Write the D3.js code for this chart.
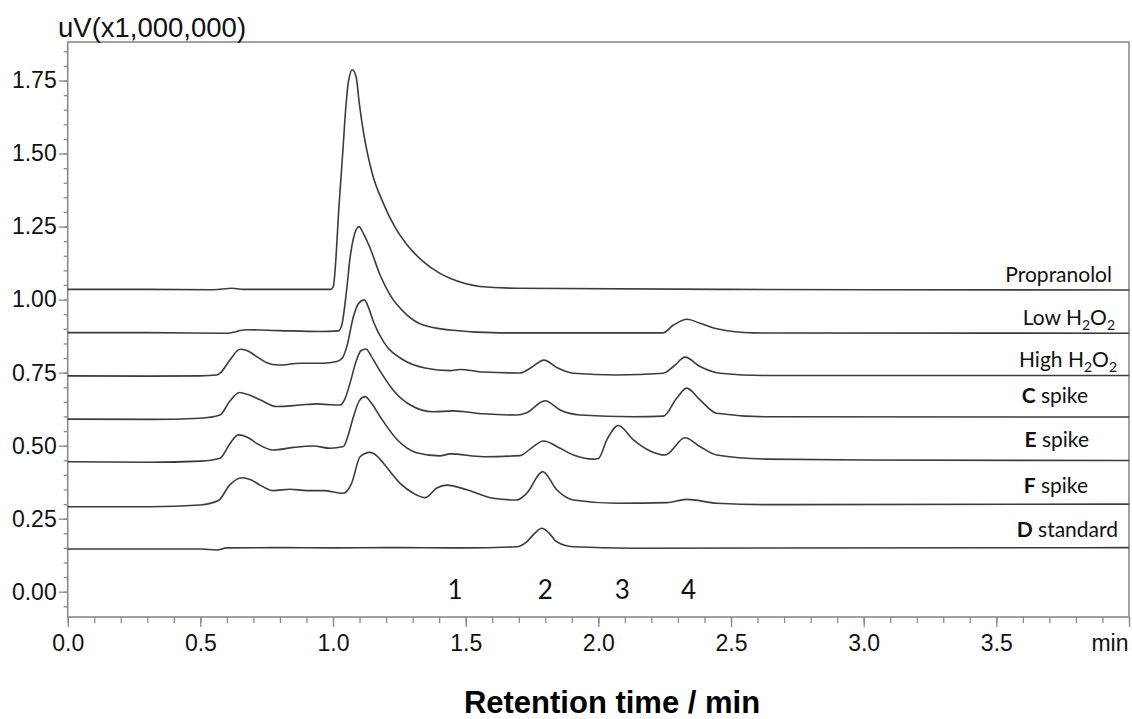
<!DOCTYPE html>
<html>
<head>
<meta charset="utf-8">
<script src="https://cdn.jsdelivr.net/npm/d3@7"></script>
<style>
  body { margin: 0; background: #fff; }
  svg { display: block; }
  .tick text { font-family: "Liberation Sans", Arial, sans-serif; font-size: 23px; fill: #111; }
  .tick line { stroke: #8a8a8a; stroke-width: 1.3; }
  .lbl { font-family: Lato, "Open Sans", sans-serif; font-size: 21px; fill: #111; }
</style>
</head>
<body>
<div id="chart"></div>
<script>
// traces: [time (min), signal (uV x1e6)] incl. stacking offset
var propranolol = [[0,1.035],[0.30,1.035],[0.55,1.034],[0.62,1.039],[0.66,1.035],[0.9925,1.035],[1.001,1.045],[1.024,1.341],[1.036,1.495],[1.049,1.667],[1.058,1.746],[1.073,1.787],[1.087,1.763],[1.099,1.672],[1.115,1.572],[1.130,1.500],[1.150,1.425],[1.188,1.333],[1.234,1.247],[1.278,1.189],[1.339,1.131],[1.403,1.090],[1.441,1.073],[1.498,1.055],[1.554,1.045],[1.690,1.039],[2.5,1.035],[4.0,1.033]];
var lowH2O2 = [[0,0.887],[0.30,0.887],[0.60,0.885],[0.625,0.888],[0.650,0.894],[0.675,0.897],[0.80,0.894],[0.95,0.891],[1.020,0.893],[1.033,0.913],[1.052,1.039],[1.064,1.142],[1.077,1.210],[1.098,1.250],[1.115,1.225],[1.140,1.176],[1.177,1.085],[1.215,1.016],[1.278,0.948],[1.340,0.913],[1.441,0.896],[1.63,0.886],[2.0,0.886],[2.243,0.886],[2.283,0.913],[2.335,0.933],[2.383,0.919],[2.446,0.900],[2.583,0.886],[4.0,0.885]];
var highH2O2 = [[0,0.739],[0.31,0.738],[0.50,0.739],[0.562,0.742],[0.574,0.748],[0.612,0.794],[0.649,0.830],[0.675,0.826],[0.712,0.805],[0.750,0.784],[0.794,0.776],[0.876,0.782],[0.963,0.782],[1.014,0.788],[1.035,0.800],[1.052,0.839],[1.077,0.942],[1.097,0.988],[1.118,0.999],[1.135,0.970],[1.152,0.925],[1.190,0.856],[1.264,0.794],[1.347,0.766],[1.441,0.757],[1.479,0.761],[1.567,0.752],[1.705,0.749],[1.743,0.765],[1.795,0.793],[1.843,0.768],[1.906,0.748],[2.069,0.742],[2.245,0.748],[2.283,0.771],[2.327,0.803],[2.383,0.771],[2.459,0.748],[2.635,0.740],[4.0,0.740]];
var cSpike = [[0,0.591],[0.31,0.590],[0.50,0.594],[0.574,0.605],[0.61,0.651],[0.647,0.682],[0.68,0.675],[0.725,0.657],[0.788,0.634],[0.876,0.639],[0.939,0.643],[0.990,0.640],[1.026,0.639],[1.045,0.660],[1.064,0.714],[1.089,0.794],[1.105,0.825],[1.124,0.831],[1.145,0.805],[1.177,0.756],[1.227,0.690],[1.290,0.640],[1.378,0.616],[1.453,0.619],[1.567,0.609],[1.692,0.605],[1.730,0.613],[1.799,0.654],[1.856,0.622],[1.931,0.605],[2.132,0.599],[2.245,0.601],[2.295,0.662],[2.333,0.697],[2.383,0.657],[2.446,0.611],[2.635,0.599],[4.0,0.598]];
var eSpike = [[0,0.445],[0.31,0.443],[0.50,0.447],[0.574,0.457],[0.61,0.505],[0.643,0.537],[0.675,0.530],[0.712,0.508],[0.775,0.485],[0.850,0.494],[0.926,0.499],[0.989,0.491],[1.039,0.497],[1.055,0.530],[1.077,0.599],[1.100,0.655],[1.121,0.668],[1.145,0.645],[1.177,0.600],[1.240,0.522],[1.315,0.476],[1.403,0.465],[1.441,0.472],[1.567,0.462],[1.705,0.466],[1.745,0.490],[1.793,0.516],[1.856,0.491],[1.906,0.468],[1.981,0.454],[2.000,0.456],[2.032,0.520],[2.075,0.569],[2.132,0.520],[2.195,0.482],[2.251,0.468],[2.327,0.527],[2.383,0.497],[2.446,0.468],[2.635,0.454],[3.0,0.451],[4.0,0.449]];
var fSpike = [[0,0.291],[0.31,0.291],[0.50,0.297],[0.568,0.312],[0.61,0.365],[0.656,0.390],[0.690,0.383],[0.725,0.365],[0.775,0.346],[0.838,0.351],[0.901,0.346],[0.963,0.346],[1.039,0.337],[1.070,0.371],[1.102,0.462],[1.139,0.477],[1.165,0.465],[1.190,0.440],[1.253,0.371],[1.303,0.337],[1.348,0.322],[1.391,0.355],[1.429,0.365],[1.504,0.349],[1.604,0.320],[1.692,0.314],[1.730,0.337],[1.790,0.411],[1.843,0.349],[1.906,0.314],[2.069,0.303],[2.258,0.305],[2.333,0.316],[2.446,0.303],[2.635,0.298],[4.0,0.300]];
var dStandard = [[0,0.146],[0.50,0.146],[0.562,0.143],[0.60,0.150],[0.80,0.151],[1.0,0.150],[1.20,0.151],[1.50,0.150],[1.692,0.154],[1.730,0.171],[1.760,0.200],[1.787,0.217],[1.815,0.200],[1.843,0.171],[1.906,0.154],[2.132,0.149],[4.0,0.151]];

var traces = [propranolol, lowH2O2, highH2O2, cSpike, eSpike, fSpike, dStandard];
var yMajor = [0, 0.25, 0.5, 0.75, 1.0, 1.25, 1.5, 1.75];
var xMajor = [0, 0.5, 1.0, 1.5, 2.0, 2.5, 3.0, 3.5, 4.0];
var peakNames = ["1", "2", "3", "4"];
var peakTimes = [1.46, 1.80, 2.09, 2.34];

var width = 1132, height = 719;
var plotL = 67.7, plotR = 1129, plotT = 42, plotB = 617;

var x = d3.scaleLinear().domain([0, 4]).range([plotL, plotR]);
var y = d3.scaleLinear().domain([-0.0866, 1.882]).range([plotB, plotT]);

var svg = d3.select("#chart").append("svg")
    .attr("width", width)
    .attr("height", height);

// minor ticks
svg.append("g")
    .attr("transform", "translate(" + plotL + ",0)")
    .call(d3.axisLeft(y).tickValues(d3.range(-0.05, 1.86, 0.05)).tickSize(4).tickFormat(""))
    .call(function(g) { g.select(".domain").remove(); });
svg.append("g")
    .attr("transform", "translate(0," + plotB + ")")
    .call(d3.axisBottom(x).tickValues(d3.range(0, 4.01, 0.1)).tickSize(6).tickFormat(""))
    .call(function(g) { g.select(".domain").remove(); });

// major ticks
svg.append("g")
    .attr("transform", "translate(" + plotL + ",0)")
    .call(d3.axisLeft(y).tickValues(yMajor).tickSize(9).tickPadding(2).tickFormat(d3.format(".2f")))
    .call(function(g) { g.select(".domain").remove(); });
svg.append("g")
    .attr("transform", "translate(0," + plotB + ")")
    .call(d3.axisBottom(x).tickValues(xMajor).tickSize(10).tickPadding(8)
        .tickFormat(function(d) { return d === 4 ? "min" : d3.format(".1f")(d); }))
    .call(function(g) {
        g.select(".domain").remove();
        g.selectAll(".tick text").filter(function(d) { return d === 4; })
            .attr("text-anchor", "end").attr("dx", "-1");
    });

// frame
svg.append("rect")
    .attr("x", plotL).attr("y", plotT)
    .attr("width", plotR - plotL).attr("height", plotB - plotT)
    .attr("fill", "none").attr("stroke", "#8a8a8a").attr("stroke-width", 1.6);

var line = d3.line()
    .x(function(d) { return x(d[0]); })
    .y(function(d) { return y(d[1]); })
    .curve(d3.curveMonotoneX);

svg.append("g").selectAll("path")
    .data(traces)
    .enter().append("path")
    .attr("d", line)
    .attr("fill", "none")
    .attr("stroke", "#3c3c3c")
    .attr("stroke-width", 1.6);

// trace labels
var labels = [
    {parts: [["Propranolol", 0]], x: 1112, y: 282},
    {parts: [["Low H", 0], ["2", 1], ["O", 0], ["2", 1]], x: 1115, y: 325},
    {parts: [["High H", 0], ["2", 1], ["O", 0], ["2", 1]], x: 1117, y: 367},
    {parts: [["C", 2], [" spike", 0]], x: 1088, y: 403},
    {parts: [["E", 2], [" spike", 0]], x: 1089, y: 447},
    {parts: [["F", 2], [" spike", 0]], x: 1088, y: 493},
    {parts: [["D", 2], [" standard", 0]], x: 1118, y: 537}
];
labels.forEach(function(l) {
    var t = svg.append("text").attr("class", "lbl")
        .attr("x", l.x).attr("y", l.y).attr("text-anchor", "end");
    l.parts.forEach(function(p, i) {
        var s = t.append("tspan").text(p[0]);
        if (p[1] === 1) {
            s.attr("font-size", "14px").attr("dy", 5);
        } else if (i > 0 && l.parts[i - 1][1] === 1) {
            s.attr("dy", -5);
        }
        if (p[1] === 2) s.attr("font-weight", "bold");
    });
});

// peak numbers
svg.append("g").selectAll("text")
    .data(peakNames)
    .enter().append("text")
    .attr("x", function(d, i) { return x(peakTimes[i]); })
    .attr("y", 599)
    .attr("text-anchor", "middle")
    .style("font-family", "Lato, sans-serif")
    .style("font-size", "26px")
    .attr("fill", "#111")
    .text(function(d) { return d; });

// axis titles
svg.append("text")
    .attr("x", 58).attr("y", 37)
    .style("font-family", "'Liberation Sans', Arial, sans-serif")
    .style("font-size", "27.5px")
    .attr("fill", "#111")
    .text("uV(x1,000,000)");

svg.append("text")
    .attr("x", 612).attr("y", 713)
    .attr("text-anchor", "middle")
    .style("font-family", "'Liberation Sans', Arial, sans-serif")
    .style("font-size", "31px")
    .style("font-weight", "bold")
    .attr("fill", "#000")
    .text("Retention time / min");
</script>
</body>
</html>
